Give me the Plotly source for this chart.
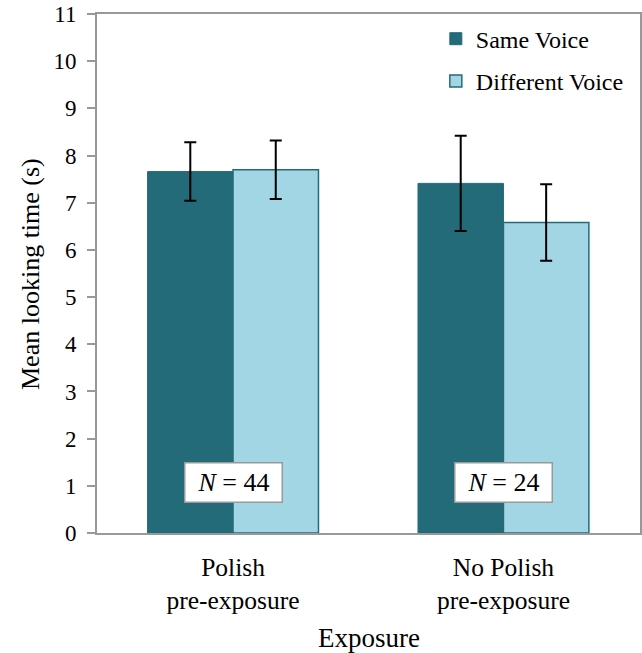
import plotly.graph_objects as go

categories = ["Polish<br>pre-exposure", "No Polish<br>pre-exposure"]
same_voice = [7.66, 7.41]
same_err = [0.62, 1.01]
diff_voice = [7.70, 6.58]
diff_err = [0.62, 0.81]
n_labels = ["<i>N</i> = 44", "<i>N</i> = 24"]
y_ticks = list(range(0, 12))

FONT = "Liberation Serif"
DARK = "#246B79"
LIGHT = "#A3D6E4"
AXIS = "#999999"

fig = go.Figure()
fig.add_trace(go.Bar(
    name="Same Voice", x=categories, y=same_voice, legendgroup="a",
    marker=dict(color=DARK, line=dict(color=DARK, width=1)),
    error_y=dict(type="data", array=same_err, color="black", thickness=2, width=6),
))
fig.add_trace(go.Bar(
    name="Different Voice", x=categories, y=diff_voice, legendgroup="b",
    marker=dict(color=LIGHT, line=dict(color=DARK, width=1.5)),
    error_y=dict(type="data", array=diff_err, color="black", thickness=2, width=6),
))

for cat, lab in zip(categories, n_labels):
    fig.add_annotation(
        x=cat, y=1.08, xref="x", yref="y", text=lab, showarrow=False,
        font=dict(family=FONT, size=26, color="black"),
        bgcolor="white", bordercolor="#999999", borderwidth=1.5,
        width=94, height=36,
    )

fig.add_annotation(
    x=0.5, y=-0.203, xref="paper", yref="paper", yanchor="middle",
    text="Exposure", showarrow=False,
    font=dict(family=FONT, size=27, color="black"),
)
fig.add_annotation(
    x=-0.1234, y=0.499, xref="paper", yref="paper", xanchor="center", yanchor="middle",
    text="Mean looking time (s)", showarrow=False, textangle=-90,
    font=dict(family=FONT, size=26, color="black"),
)

fig.update_layout(
    width=642, height=653,
    margin=dict(l=97, r=2, t=14, b=120),
    paper_bgcolor="white", plot_bgcolor="white",
    barmode="group", bargap=0.368, bargroupgap=0,
    font=dict(family=FONT, size=22, color="black"),
    showlegend=True,
    legend=dict(
        x=0.624, y=0.995, xanchor="left", yanchor="top",
        font=dict(family=FONT, size=24, color="black"),
        bgcolor="rgba(0,0,0,0)", traceorder="grouped", tracegroupgap=8,
    ),
    xaxis=dict(
        range=[-0.503, 1.505], showline=True, linecolor=AXIS, linewidth=2,
        mirror=True, ticks="", showgrid=False, automargin=False,
        ticklabelstandoff=10,
        tickfont=dict(family=FONT, size=25.5, color="black"),
    ),
    yaxis=dict(
        range=[0, 11], tickvals=y_ticks, showline=True, linecolor=AXIS, linewidth=2,
        mirror=True, ticks="outside", ticklen=8, tickwidth=2, tickcolor=AXIS,
        showgrid=False, zeroline=False, automargin=False,
        ticklabelstandoff=6,
        tickfont=dict(family=FONT, size=23, color="black"),
    ),
)

fig.write_html(
    "out.html",
    config={"displayModeBar": False},
    post_script="document.body.style.margin='0';",
)
